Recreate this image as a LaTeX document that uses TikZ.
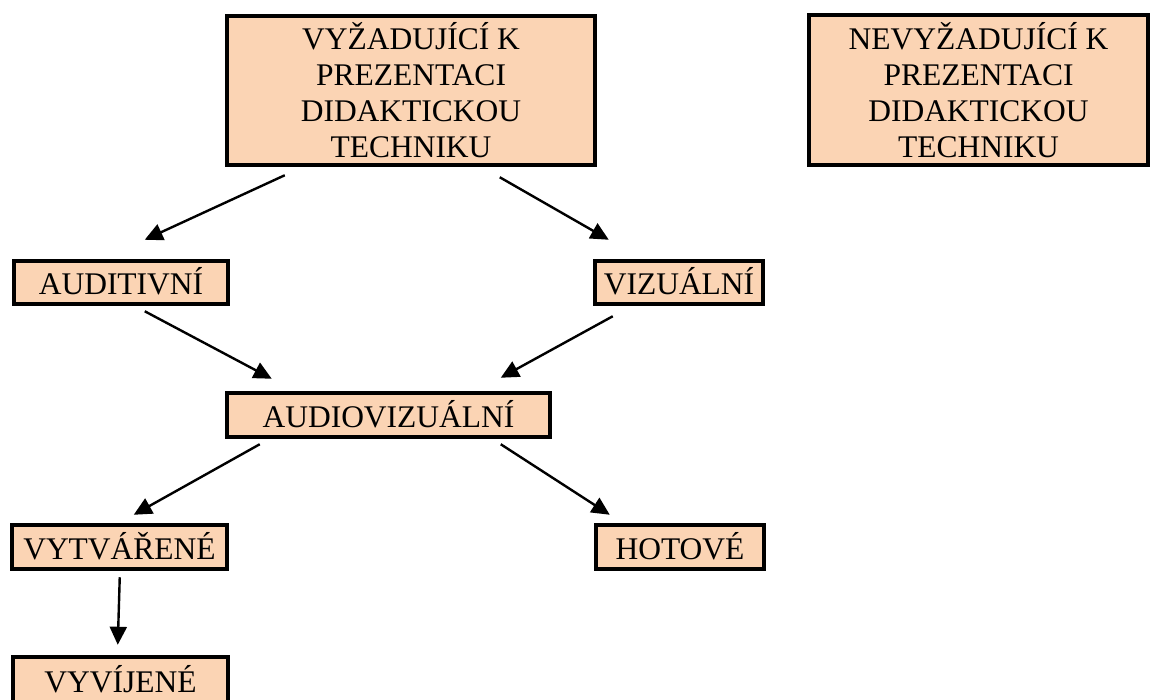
\documentclass[tikz,border=0pt]{standalone}
\usepackage{fontspec}
\setmainfont{Liberation Serif}
\usetikzlibrary{arrows.meta}
\definecolor{peach}{HTML}{FBD4B4}
\begin{document}
\begin{tikzpicture}[x=1pt,y=-1pt,
  box/.style={draw=black,line width=4.5pt,fill=peach,inner sep=0pt,align=center,
    font=\fontsize{31.5}{36}\selectfont},
  onebox/.style={box,text height=25pt,text depth=1pt},
  arr/.style={line width=2.4pt,-{Triangle[length=18pt,width=17pt]}}]
\useasboundingbox (0,0) rectangle (1158,700);
\node[box,minimum width=368pt,minimum height=149pt] (tl) at (411,90.5)
  {VYŽADUJÍCÍ K\\PREZENTACI\\DIDAKTICKOU\\TECHNIKU};
\node[box,minimum width=339pt,minimum height=150pt] (tr) at (978.5,90)
  {NEVYŽADUJÍCÍ K\\PREZENTACI\\DIDAKTICKOU\\TECHNIKU};
\node[onebox,minimum width=214pt,minimum height=43pt] (aud) at (121,282.5) {AUDITIVNÍ};
\node[onebox,minimum width=168pt,minimum height=43pt] (viz) at (679,282.5) {VIZUÁLNÍ};
\node[onebox,minimum width=323pt,minimum height=44pt] (av) at (388.5,415) {AUDIOVIZUÁLNÍ};
\node[onebox,minimum width=215pt,minimum height=44pt] (vyt) at (119.5,547) {VYTVÁŘENÉ};
\node[onebox,minimum width=168pt,minimum height=44pt] (hot) at (680,547) {HOTOVÉ};
\node[onebox,minimum width=215pt,minimum height=46pt] (vyv) at (120.5,680) {VYVÍJENÉ};
\draw[arr] ([xshift=60pt,yshift=-8pt]tl.south west) -- ([xshift=133pt,yshift=19pt]aud.north west);
\draw[arr] ([xshift=275pt,yshift=-10pt]tl.south west) -- ([xshift=16pt,yshift=19pt]viz.north west);
\draw[arr] ([xshift=133pt,yshift=-5pt]aud.south west) -- ([xshift=47pt,yshift=12pt]av.north west);
\draw[arr] ([xshift=20pt,yshift=-10pt]viz.south west) -- ([xshift=276pt,yshift=13pt]av.north west);
\draw[arr] ([xshift=35pt,yshift=-5pt]av.south west) -- ([xshift=124pt,yshift=8pt]vyt.north west);
\draw[arr] ([xshift=276pt,yshift=-5pt]av.south west) -- ([xshift=16pt,yshift=8pt]hot.north west);
\draw[arr] ([xshift=110pt,yshift=-6pt]vyt.south west) -- ([xshift=107pt,yshift=10pt]vyv.north west);
\end{tikzpicture}
\end{document}
